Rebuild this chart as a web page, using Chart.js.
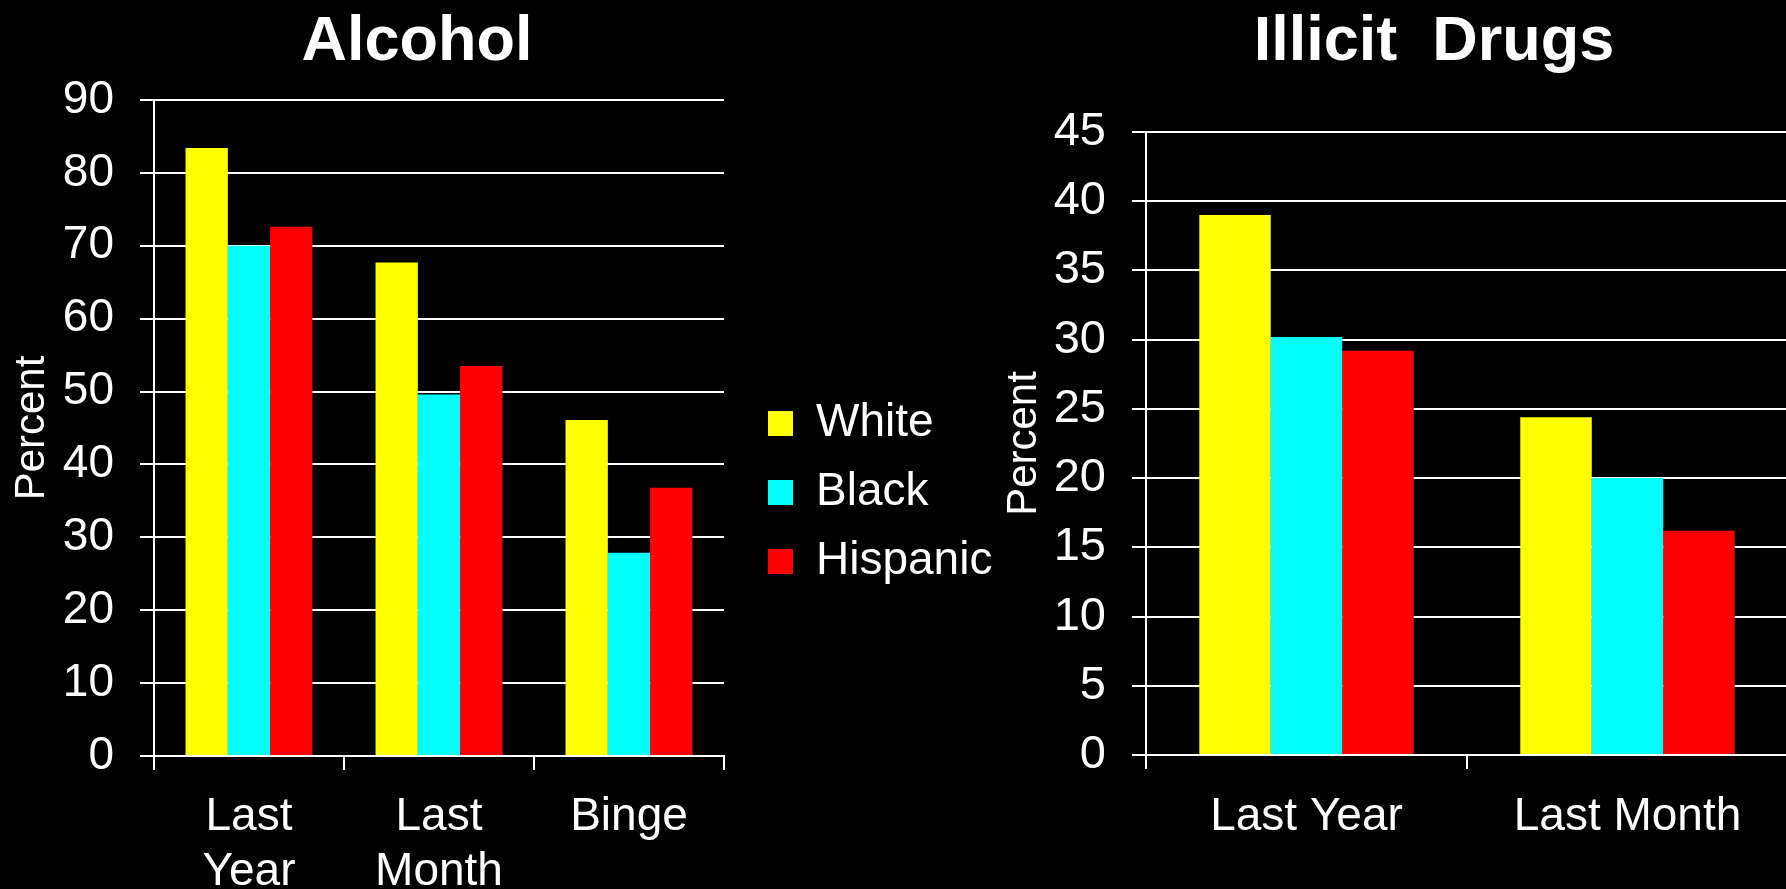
<!DOCTYPE html>
<html>
<head>
<meta charset="utf-8">
<title>Alcohol and illicit drug use</title>
<script src="https://cdn.jsdelivr.net/npm/chart.js@4.4.1/dist/chart.umd.min.js"></script>
<style>
  body {
    margin: 0;
    width: 1786px;
    height: 889px;
    background: #000;
    overflow: hidden;
    position: relative;
    font-family: 'Liberation Sans', Arial, sans-serif;
  }
  .chart-title {
    position: absolute;
    top: 7px;
    width: 600px;
    margin: 0;
    color: #fff;
    font-size: 63px;
    line-height: 63px;
    font-weight: bold;
    text-align: center;
    white-space: pre;
  }
  #alcoholTitle { left: 117px; }
  #drugsTitle { left: 1134px; }
  #alcoholChart { position: absolute; left: 0; top: 0; }
  #drugsChart { position: absolute; left: 745px; top: 0; }
</style>
</head>
<body>
<h2 class="chart-title" id="alcoholTitle">Alcohol</h2>
<h2 class="chart-title" id="drugsTitle">Illicit  Drugs</h2>
<canvas id="alcoholChart" width="726" height="889"></canvas>
<canvas id="drugsChart" width="1043" height="853"></canvas>
<script>
const groups = ['White', 'Black', 'Hispanic'];
const groupColors = ['#ffff00', '#00ffff', '#ff0000'];

// alcohol use, percent
const alcoholLabels = [['Last', 'Year'], ['Last', 'Month'], 'Binge'];
const alcoholWhite = [83.4, 67.7, 46.1];
const alcoholBlack = [70.0, 49.6, 27.9];
const alcoholHispanic = [72.6, 53.5, 36.8];
const alcoholMax = 90;
const alcoholStep = 10;

// illicit drug use, percent
const drugLabels = ['Last Year', 'Last Month'];
const drugWhite = [39.0, 24.4];
const drugBlack = [30.2, 20.0];
const drugHispanic = [29.2, 16.2];
const drugMax = 45;
const drugStep = 5;

Chart.defaults.font.family = "'Liberation Sans', Arial, sans-serif";
Chart.defaults.color = '#fff';

function makeDatasets(series) {
    return series.map((values, i) => ({
        label: groups[i],
        data: values,
        backgroundColor: groupColors[i],
        borderWidth: 0,
        categoryPercentage: 0.668,
        barPercentage: 1.0
    }));
}

function makeScales(opts) {
    return {
        x: {
            grid: { drawOnChartArea: false, drawTicks: true, tickLength: 14, color: '#fff', lineWidth: 2, offset: true },
            border: { display: true, color: '#fff', width: 2 },
            ticks: { color: '#fff', font: { size: 46, lineHeight: 1.2 }, padding: opts.xPad, maxRotation: 0, autoSkip: false },
            afterFit: (scale) => { scale.height = opts.xHeight; }
        },
        y: {
            min: 0,
            max: opts.max,
            ticks: { stepSize: opts.step, color: '#fff', font: { size: opts.tickSize }, padding: 26 },
            grid: { color: '#fff', lineWidth: 2, tickLength: 14 },
            border: { display: true, color: '#fff', width: 2 },
            title: {
                display: true,
                text: 'Percent',
                color: '#fff',
                font: { size: 42, lineHeight: 1 },
                padding: { top: opts.titlePad, bottom: 0 }
            },
            afterFit: opts.yFit
        }
    };
}

new Chart(document.getElementById('alcoholChart'), {
    type: 'bar',
    data: {
        labels: alcoholLabels,
        datasets: makeDatasets([alcoholWhite, alcoholBlack, alcoholHispanic])
    },
    options: {
        responsive: false,
        animation: false,
        layout: { padding: { top: 100, right: 2, left: 0, bottom: 0 } },
        plugins: { legend: { display: false }, tooltip: { enabled: false } },
        scales: makeScales({
            max: alcoholMax,
            step: alcoholStep,
            tickSize: 46,
            xHeight: 133,
            xPad: 20,
            titlePad: 11,
            yFit: (scale) => { scale.width = 154; }
        })
    }
});

new Chart(document.getElementById('drugsChart'), {
    type: 'bar',
    data: {
        labels: drugLabels,
        datasets: makeDatasets([drugWhite, drugBlack, drugHispanic])
    },
    options: {
        responsive: false,
        animation: false,
        layout: { padding: { top: 132, right: 0, left: 0, bottom: 0 } },
        plugins: {
            tooltip: { enabled: false },
            legend: {
                position: 'left',
                maxWidth: 400,
                labels: { color: '#fff', font: { size: 46 }, boxWidth: 25, boxHeight: 25, padding: 23 }
            }
        },
        scales: makeScales({
            max: drugMax,
            step: drugStep,
            tickSize: 47,
            xHeight: 98,
            xPad: 21,
            titlePad: 1,
            // keep the plot's left edge fixed whatever width the legend takes
            yFit: (scale) => { scale.width = 401 - scale.chart.legend.width; }
        })
    }
});
</script>
</body>
</html>
